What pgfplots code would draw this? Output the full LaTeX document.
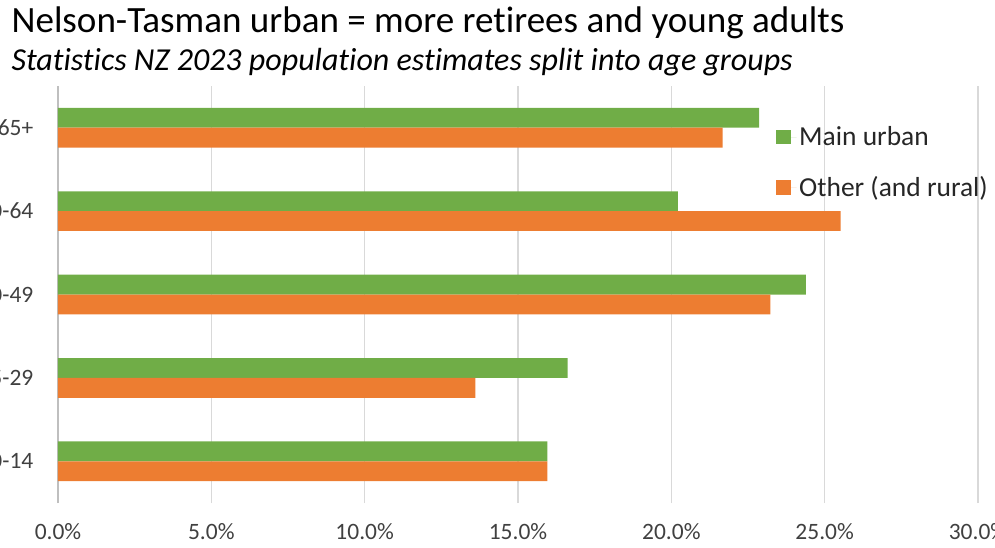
\documentclass[border=0pt]{standalone}
\usepackage{fontspec}
\setmainfont{Carlito}[Ligatures={NoCommon}]
\usepackage{pgfplots}
\usepackage{pgfplotstable}
\pgfplotsset{compat=1.18}
\definecolor{mgreen}{HTML}{70AD47}
\definecolor{morange}{HTML}{ED7D31}
\definecolor{gridc}{HTML}{D9D9D9}
\definecolor{txt}{HTML}{404040}
\pgfplotstableread{
cat main other
0 15.96 15.96
1 16.62 13.61
2 24.39 23.23
3 20.21 25.52
4 22.86 21.67
}\data
\begin{document}
\begin{tikzpicture}
\useasboundingbox (0,0) rectangle (746.25pt,410.25pt);
\clip (0,0) rectangle (746.25pt,410.25pt);
\node[anchor=base west, inner sep=0pt, font=\fontsize{27.8pt}{32pt}\selectfont] at (8.5pt,385.5pt) {Nelson-Tasman urban = more retirees and young adults};
\node[anchor=base west, inner sep=0pt, font=\fontsize{24pt}{28pt}\selectfont\itshape] at (8.5pt,357.5pt) {Statistics NZ 2023 population estimates split into age groups};
\begin{axis}[
  at={(43.5pt,33pt)}, anchor=south west,
  scale only axis, width=690pt, height=312.75pt,
  xmin=0, xmax=30, ymin=-0.5, ymax=4.5,
  axis y line*=left, axis x line*=bottom,
  x axis line style={draw=none},
  y axis line style={draw=black!25, line width=1pt},
  xtick={0,5,...,30},
  xticklabels={0.0\%,5.0\%,10.0\%,15.0\%,20.0\%,25.0\%,30.0\%},
  ytick={0,1,2,3,4},
  yticklabels={0-14,15-29,30-49,50-64,65+},
  major tick length=0pt,
  xmajorgrids, grid style={gridc, line width=1pt},
  tick label style={font=\fontsize{17.6pt}{20pt}\selectfont, text=txt},
  xticklabel style={yshift=-11.5pt},
  yticklabel style={xshift=-15pt},
  xbar, bar shift=0pt, bar width=0.238,
  legend style={draw=none, fill=none, at={(0.78,0.91)}, anchor=north west,
    font=\fontsize{20.6pt}{24pt}\selectfont, text=black!85, row sep=18pt,
    legend cell align=left, inner sep=0pt},
  legend image code/.code={\fill[#1] (0pt,-5.6pt) rectangle (11.25pt,5.6pt);
    \path (0pt,0pt) -- (15.5pt,0pt);},
]
\addplot[fill=mgreen, draw=none] table[x=main, y expr=\thisrow{cat}+0.119] {\data};
\addplot[fill=morange, draw=none] table[x=other, y expr=\thisrow{cat}-0.119] {\data};
\legend{Main urban, Other (and rural)}
\end{axis}
\end{tikzpicture}
\end{document}
